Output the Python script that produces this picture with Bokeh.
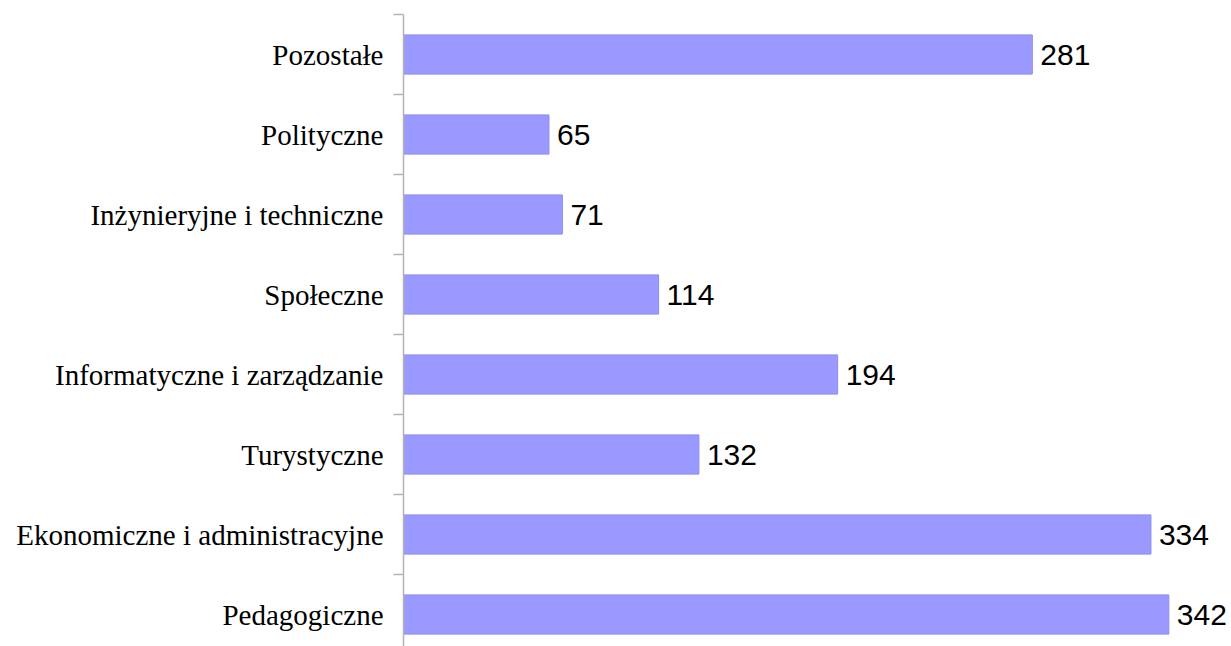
from bokeh.plotting import figure
from bokeh.models import ColumnDataSource, Range1d, LinearAxis, FixedTicker
from bokeh.core.properties import value
from bokeh.embed import file_html
from bokeh.resources import INLINE

categories = ["Pedagogiczne", "Ekonomiczne i administracyjne", "Turystyczne",
              "Informatyczne i zarządzanie", "Społeczne", "Inżynieryjne i techniczne",
              "Polityczne", "Pozostałe"]
values = [342, 334, 132, 194, 114, 71, 65, 281]

positions = list(range(len(categories)))
source = ColumnDataSource(dict(y=positions, value=values, label=[str(v) for v in values]))

p = figure(width=1231, height=646, output_backend="svg", toolbar_location=None,
           x_range=Range1d(0, 370), y_range=Range1d(-0.4, len(categories) - 0.5),
           x_axis_location=None, y_axis_location=None,
           min_border_left=403, min_border_right=0, min_border_top=14, min_border_bottom=0)
p.outline_line_color = None
p.xgrid.visible = False
p.ygrid.visible = False
p.background_fill_color = "white"

p.hbar(y="y", right="value", left=0, height=0.49, source=source,
       fill_color="#9999ff", line_color="#8c8cf0", line_width=1)
p.text(x="value", y="y", text="label", source=source, x_offset=8,
       text_baseline="middle", text_align="left",
       text_font=value("Liberation Sans"), text_font_size="30px", text_color="#000000")

bounds = [i - 0.5 for i in range(len(categories) + 1)]
tick_axis = LinearAxis(ticker=FixedTicker(ticks=bounds),
                       major_label_overrides={b: "" for b in bounds},
                       major_label_standoff=0, major_tick_out=10, major_tick_in=0,
                       minor_tick_out=0, minor_tick_in=0,
                       axis_line_color="#b3b3b3", major_tick_line_color="#b3b3b3",
                       axis_line_width=1.5, major_tick_line_width=1.5)
p.add_layout(tick_axis, "left")

label_axis = LinearAxis(ticker=FixedTicker(ticks=positions),
                        major_label_overrides={i: c for i, c in zip(positions, categories)},
                        major_label_standoff=10, major_tick_out=0, major_tick_in=0,
                        minor_tick_out=0, minor_tick_in=0,
                        axis_line_color=None, major_tick_line_color=None,
                        major_label_text_font="Liberation Serif",
                        major_label_text_font_size="29px",
                        major_label_text_color="#000000")
p.add_layout(label_axis, "left")

open("out.html", "w").write(file_html(p, INLINE))
